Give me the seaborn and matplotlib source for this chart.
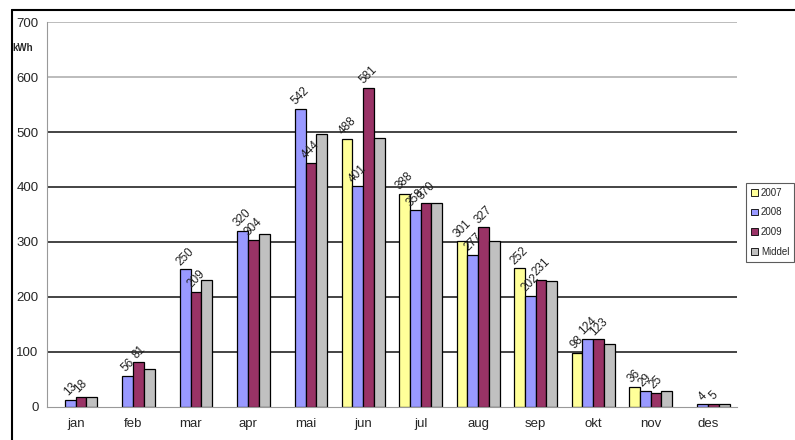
# Monthly solar energy production, kWh per month
import numpy as np
import pandas as pd
import matplotlib
matplotlib.use("Agg")
import matplotlib.pyplot as plt
from matplotlib.lines import Line2D
import seaborn as sns

# ==========================================
# Data
# ==========================================
months = ["jan", "feb", "mar", "apr", "mai", "jun",
          "jul", "aug", "sep", "okt", "nov", "des"]
years = ["2007", "2008", "2009", "Middel"]

kwh_2007 = [np.nan, np.nan, np.nan, np.nan, np.nan, 488,
            388, 301, 252, 98, 36, np.nan]
kwh_2008 = [13, 56, 250, 320, 542, 401, 358, 277, 202, 124, 29, 4]
kwh_2009 = [18, 81, 209, 304, 444, 581, 370, 327, 231, 123, 25, 5]
kwh_mid = [18, 68, 230, 314, 497, 490, 371, 302, 228, 115, 29, 5]

colors = ["#FFFF99", "#9999FF", "#993366", "#C0C0C0"]

df = pd.DataFrame({
    "month": months * 4,
    "year": np.repeat(years, len(months)),
    "kWh": kwh_2007 + kwh_2008 + kwh_2009 + kwh_mid,
})

# ==========================================
# Plot
# ==========================================
sns.set_style("white")
plt.rcParams["font.family"] = ["Liberation Sans", "DejaVu Sans"]

fig = plt.figure(figsize=(7.95, 4.4), dpi=100)
ax = fig.add_axes([0.059, 0.0757, 0.868, 0.874])

sns.barplot(data=df, x="month", y="kWh", hue="year",
            order=months, hue_order=years, palette=colors,
            edgecolor="black", linewidth=0.9, width=0.75,
            errorbar=None, saturation=1, legend=False, ax=ax)

# value labels for the three years (not the average)
for cont in ax.containers[:3]:
    labels = [f"{v:.0f}" for v in cont.datavalues]
    ax.bar_label(cont, labels=labels, rotation=45, fontsize=8.5,
                 padding=1, color="#222222")

ax.set_ylim(0, 700)
ax.set_yticks(range(0, 701, 100))
ax.set_xlim(-0.5, 11.5)
ax.set_xlabel("")
ax.set_ylabel("")

# grid
ax.yaxis.grid(True, color="#111111", linewidth=1.1)
for val, gl in zip(ax.get_yticks(), ax.get_ygridlines()):
    if val >= 600:
        gl.set_color("#aaaaaa")
    if val == 0:
        gl.set_visible(False)
ax.set_axisbelow(True)

for side in ["top", "right"]:
    ax.spines[side].set_visible(False)
ax.spines["left"].set_color("#999999")
ax.spines["bottom"].set_color("#999999")

ax.tick_params(axis="y", length=4, color="#999999", labelsize=9.5, pad=2)
ax.tick_params(axis="x", length=0, labelsize=9.5, pad=8)
ax.set_xticks(np.arange(-0.5, 12, 1), minor=True)
ax.tick_params(axis="x", which="minor", length=3, color="#555555")

fig.text(0.016, 0.891, "kWh", fontsize=7, weight="bold", va="center")

# legend squeezed against the right edge
handles = [plt.Rectangle((0, 0), 1, 1, facecolor=c, edgecolor="black",
                         linewidth=0.6) for c in colors]
leg = fig.legend(handles, years, loc="center right",
                 bbox_to_anchor=(0.999, 0.495), fontsize=7,
                 frameon=True, fancybox=False, edgecolor="#333333",
                 handlelength=0.7, handleheight=0.7, handletextpad=0.3,
                 borderpad=0.5, labelspacing=1.0, borderaxespad=0)
leg.get_frame().set_linewidth(0.8)

# outer frame lines (top and left)
fig.add_artist(Line2D([0.015, 1.0], [0.977, 0.977], color="black",
                      linewidth=1.5, transform=fig.transFigure))
fig.add_artist(Line2D([0.015, 0.015], [0.0, 0.977], color="black",
                      linewidth=1.5, transform=fig.transFigure))

fig.savefig("out.png", dpi=100)
